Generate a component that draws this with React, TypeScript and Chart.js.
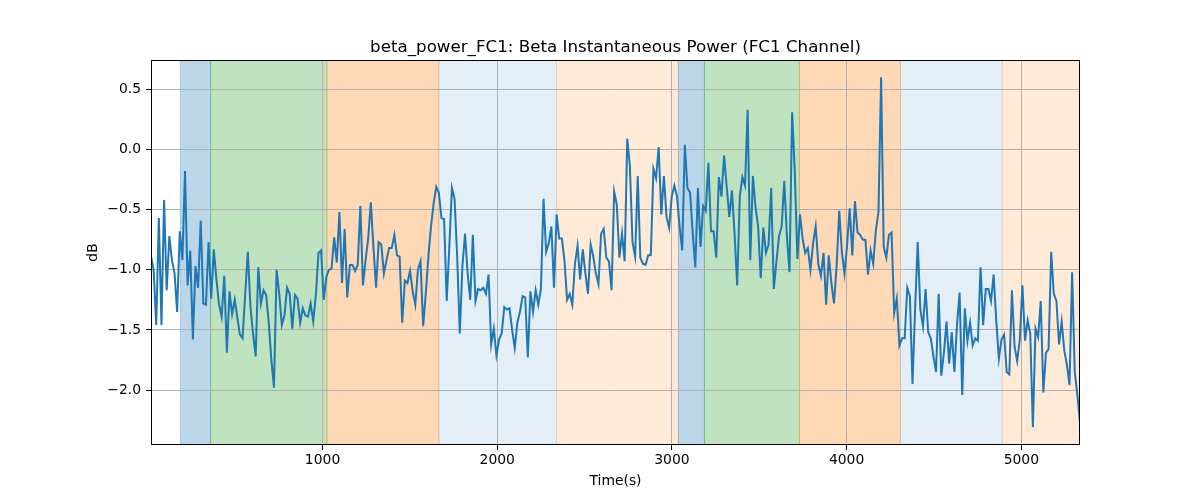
import React, { useEffect, useRef } from 'react';
import { Chart, registerables } from 'chart.js';

Chart.register(...registerables);

// sampling of the time axis (seconds)
const T0 = 18;
const DT = 14.98;

// beta power in dB, one value per sample
const dbValues = [
  -0.89, -1.0, -1.46, -0.57, -1.46, -0.42, -1.17, -0.72, -0.92, -1.03,
  -1.35, -0.68, -0.92, -0.18, -1.13, -0.84, -1.58, -0.97, -1.15, -0.59,
  -1.28, -1.29, -0.77, -1.24, -0.83, -1.08, -1.29, -1.39, -1.05, -1.69,
  -1.18, -1.37, -1.25, -1.4, -1.54, -1.57, -1.2, -0.85, -1.31, -1.53,
  -1.72, -0.98, -1.28, -1.17, -1.21,
  -1.44, -1.75, -1.98, -1.0, -1.2, -1.46, -1.38, -1.15, -1.2, -1.49,
  -1.21, -1.24, -1.44, -1.32, -1.38, -1.39, -1.28, -1.43, -1.21, -0.86,
  -0.84, -1.25, -1.06, -1.0, -0.99, -0.73, -0.94, -0.52, -1.11, -0.66,
  -1.23, -0.96, -0.96, -1.01, -0.96, -0.47, -1.13, -0.92, -0.74, -0.44,
  -0.81, -1.15, -0.77, -0.79, -1.03,
  -0.92, -0.82, -0.82, -0.71, -0.88, -0.89, -1.44, -1.09, -1.11, -1.01,
  -1.18, -1.29, -1.0, -0.93, -1.47, -1.2, -0.89, -0.64, -0.45, -0.31,
  -0.36, -0.57, -0.58, -1.26, -0.81, -0.32, -0.41, -0.89, -1.53, -0.97,
  -0.7, -1.03, -1.25, -0.71, -1.26, -1.16, -1.17, -1.15, -1.2, -1.04,
  -1.62, -1.49, -1.71, -1.58,
  -1.53, -1.31, -1.33, -1.32, -1.5, -1.65, -1.44, -1.35, -1.22, -1.23,
  -1.73, -1.18, -1.35, -1.17, -1.29, -1.16, -0.41, -0.85, -0.78, -0.64,
  -1.15, -0.54, -0.74, -0.74, -0.92, -1.25, -1.2, -1.29, -0.95, -0.8,
  -1.08, -0.83, -1.03, -1.2, -0.79, -0.89, -1.03, -1.12, -0.7, -0.66,
  -0.9, -0.93, -1.17, -0.35, -0.46,
  -0.9, -0.7, -0.93, 0.09, -0.14, -0.77, -0.89, -0.22, -0.9, -0.95,
  -0.96, -0.88, -0.88, -0.16, -0.24, 0.02, -0.54, -0.22, -0.56, -0.65,
  -0.39, -0.3, -0.39, -0.64, -0.84, 0.04, -0.32, -0.36, -0.69, -0.98,
  -0.32, -0.81, -0.47, -0.51, -0.11, -0.68, -0.68, -0.9, -0.23, -0.39,
  -0.05, -0.31, -0.56, -0.34,
  -0.7, -1.13, -0.39, -0.23, -0.3, 0.33, -0.92, -0.22, -0.48, -0.64,
  -1.07, -0.65, -0.86, -0.79, -0.32, -1.16, -0.93, -0.72, -0.64, -0.26,
  -0.72, -1.02, 0.31, -0.17, -0.91, -0.54, -0.74, -0.86, -0.82, -1.0,
  -0.78, -0.64, -0.95, -1.05, -0.86, -1.29, -0.88, -1.11, -1.28, -0.97,
  -0.51, -0.85, -1.03,
  -0.8, -0.49, -0.88, -0.43, -0.69, -0.71, -0.75, -0.75, -1.04, -0.84,
  -0.95, -0.67, -0.52, 0.6, -0.81, -0.9, -0.71, -0.69, -1.36, -1.24,
  -1.63, -1.57, -1.57, -1.15, -1.22, -1.95, -1.32, -0.77, -1.33, -1.47,
  -1.16, -1.52, -1.57, -1.72, -1.85, -1.2, -1.88, -1.69, -1.43, -1.78,
  -1.52, -1.85, -1.46, -1.19, -2.04,
  -1.32, -1.59, -1.44, -1.63, -1.57, -1.59, -0.98, -1.46, -1.16, -1.16,
  -1.26, -1.04, -1.42, -1.74, -1.58, -1.54, -1.85, -1.87, -1.17, -1.64,
  -1.76, -1.58, -1.13, -1.59, -1.42, -1.53, -2.31, -1.49, -1.56, -1.26,
  -2.02, -1.69, -1.66, -0.85, -1.2, -1.26, -1.62, -1.43, -1.67, -1.79,
  -1.96, -1.02, -1.85, -2.04, -2.27,
];

// shaded segments along the time axis
const bandStarts = [186, 359, 1025, 1666, 2339, 3037, 3186, 3730, 4308, 4891];
const bandEnds = [359, 1025, 1666, 2339, 3037, 3186, 3730, 4308, 4891, 5336];
const bandColors = [
  'rgba(31,119,180,0.3)',
  'rgba(44,160,44,0.3)',
  'rgba(255,127,14,0.3)',
  'rgba(31,119,180,0.12)',
  'rgba(255,127,14,0.16)',
  'rgba(31,119,180,0.3)',
  'rgba(44,160,44,0.3)',
  'rgba(255,127,14,0.3)',
  'rgba(31,119,180,0.12)',
  'rgba(255,127,14,0.16)',
];

const xTicks = [1000, 2000, 3000, 4000, 5000];
const yTicks = [-2.0, -1.5, -1.0, -0.5, 0.0, 0.5];

const X_MIN = 18;
const X_MAX = 5336;
const Y_MIN = -2.457;
const Y_MAX = 0.744;

const TITLE = 'beta_power_FC1: Beta Instantaneous Power (FC1 Channel)';
const FONT = "'DejaVu Sans', sans-serif";

const bandsPlugin = {
  id: 'bands',
  beforeDraw(chart: any) {
    const { ctx, chartArea, scales } = chart;
    const x = scales.x;
    ctx.save();
    ctx.beginPath();
    ctx.rect(chartArea.left, chartArea.top, chartArea.width, chartArea.height);
    ctx.clip();
    bandStarts.forEach((s, i) => {
      const x1 = x.getPixelForValue(s);
      const x2 = x.getPixelForValue(bandEnds[i]);
      ctx.fillStyle = bandColors[i];
      ctx.fillRect(x1, chartArea.top, x2 - x1, chartArea.height);
      ctx.strokeStyle = bandColors[i];
      ctx.lineWidth = 1;
      ctx.strokeRect(x1, chartArea.top, x2 - x1, chartArea.height);
    });
    ctx.restore();
  },
  afterDraw(chart: any) {
    const { ctx, chartArea } = chart;
    ctx.save();
    ctx.strokeStyle = '#000';
    ctx.lineWidth = 1;
    ctx.strokeRect(
      Math.round(chartArea.left) + 0.5,
      Math.round(chartArea.top) + 0.5,
      Math.round(chartArea.width) - 1,
      Math.round(chartArea.height) - 1
    );
    ctx.fillStyle = '#000';
    ctx.font = `16.7px ${FONT}`;
    ctx.textAlign = 'center';
    ctx.textBaseline = 'alphabetic';
    ctx.fillText(TITLE, (chartArea.left + chartArea.right) / 2, chartArea.top - 8);
    ctx.restore();
  },
};

const fmt = (v: number) => v.toFixed(1).replace('-', '\u2212');

const App: React.FC = () => {
  const chartRef = useRef<HTMLCanvasElement>(null);

  useEffect(() => {
    if (!chartRef.current) return;
    const ctx = chartRef.current.getContext('2d');
    if (!ctx) return;

    const points = dbValues.map((v, i) => ({ x: T0 + i * DT, y: v }));

    const myChart = new Chart(ctx, {
      type: 'line',
      data: {
        datasets: [
          {
            data: points,
            borderColor: '#1f77b4',
            borderWidth: 2,
            pointRadius: 0,
            tension: 0,
          },
        ],
      },
      options: {
        animation: false,
        responsive: false,
        devicePixelRatio: 1,
        layout: { padding: { left: 0, right: 120, top: 60, bottom: 0 } },
        plugins: {
          legend: { display: false },
          tooltip: { enabled: false },
        },
        scales: {
          x: {
            type: 'linear',
            min: X_MIN,
            max: X_MAX,
            afterBuildTicks: (scale: any) => {
              scale.ticks = xTicks.map((v) => ({ value: v }));
            },
            afterFit: (scale: any) => {
              scale.height = 55;
            },
            grid: {
              color: '#b0b0b0',
              lineWidth: 1,
              tickColor: '#000',
              tickLength: 5,
            },
            border: { display: false },
            ticks: {
              color: '#000',
              font: { family: FONT, size: 13.9 },
              padding: 2,
              maxRotation: 0,
              callback: (v: any) => String(v),
            },
            title: {
              display: true,
              text: 'Time(s)',
              color: '#000',
              font: { family: FONT, size: 13.9 },
              padding: { top: 0, bottom: 10 },
            },
          },
          y: {
            type: 'linear',
            min: Y_MIN,
            max: Y_MAX,
            afterBuildTicks: (scale: any) => {
              scale.ticks = yTicks.map((v) => ({ value: v }));
            },
            afterFit: (scale: any) => {
              scale.width = 151;
            },
            grid: {
              color: '#b0b0b0',
              lineWidth: 1,
              tickColor: '#000',
              tickLength: 5,
            },
            border: { display: false },
            ticks: {
              color: '#000',
              font: { family: FONT, size: 13.9 },
              padding: 5,
              callback: (v: any) => fmt(Number(v)),
            },
            title: {
              display: true,
              text: 'dB',
              color: '#000',
              font: { family: FONT, size: 13.9 },
              padding: { top: 85, bottom: 0 },
            },
          },
        },
      },
      plugins: [bandsPlugin],
    });

    return () => {
      myChart.destroy();
    };
  }, []);

  return (
    <div style={{ position: 'absolute', left: 0, top: 0, width: 1200, height: 500, background: '#fff' }}>
      <canvas ref={chartRef} width={1200} height={500} />
    </div>
  );
};

export default App;
